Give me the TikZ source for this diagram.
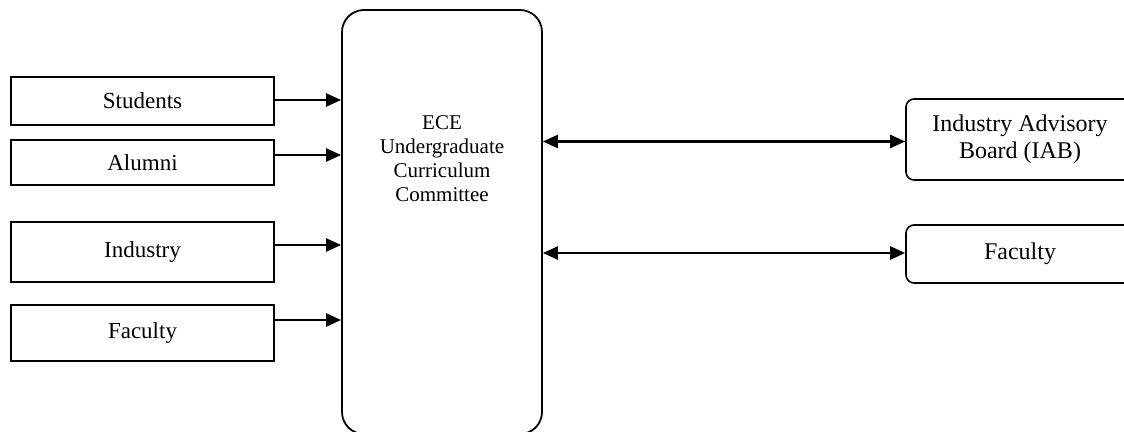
\documentclass[tikz,border=0pt]{standalone}
\usepackage{fontspec}
\setmainfont{Liberation Serif}
\usetikzlibrary{arrows.meta}
\begin{document}
\begin{tikzpicture}[x=1pt,y=-1pt,
  inbox/.style={draw, line width=1.6pt, minimum width=263pt, inner sep=0pt, font=\fontsize{23}{27}\selectfont},
  outbox/.style={draw, line width=1.6pt, rounded corners=8pt, minimum width=228pt, inner sep=0pt, align=center, font=\fontsize{24}{27}\selectfont},
  bigbox/.style={draw, line width=1.8pt, rounded corners=22pt, minimum width=200pt, minimum height=424pt, inner sep=0pt},
  arr/.style={line width=2.4pt, -{Triangle[length=15pt,width=13pt]}},
  darr/.style={line width=2.4pt, {Triangle[length=15pt,width=13pt]}-{Triangle[length=15pt,width=13pt]}}
]
\useasboundingbox (0,0) rectangle (1124,431);
\clip (0,0) rectangle (1124,431);
% centre box
\node[bigbox] (ece) at (442,222) {};
\node[anchor=north, inner sep=0pt, align=center, font=\fontsize{21}{24}\selectfont] (ecetext) at (442,115) {ECE\\Undergraduate\\Curriculum\\Committee};
% left boxes
\node[inbox, minimum height=48pt] (students) at (142.5,101) {Students};
\node[inbox, minimum height=45pt] (alumni) at (142.5,162.5) {Alumni};
\node[inbox, minimum height=60pt] (industry) at (142.5,252) {Industry};
\node[inbox, minimum height=56pt] (faculty) at (142.5,333) {Faculty};
% right boxes
\node[outbox, minimum height=81pt] (iab) at (1020,139.5) {Industry Advisory\\Board (IAB)};
\node[outbox, minimum height=58pt] (faculty2) at (1020,254) {Faculty};
% arrows
\path ([yshift=1pt]students.east) coordinate (s1);
\path ([yshift=7.5pt]alumni.east) coordinate (a1);
\path ([yshift=7pt]industry.east) coordinate (i1);
\path ([yshift=13pt]faculty.east) coordinate (f1);
\draw[arr] (s1) -- (s1 -| ece.west);
\draw[arr] (a1) -- (a1 -| ece.west);
\draw[arr] (i1) -- (i1 -| ece.west);
\draw[arr] (f1) -- (f1 -| ece.west);
\path ([yshift=-2pt]iab.west) coordinate (r1);
\path ([yshift=1pt]faculty2.west) coordinate (r2);
\draw[darr] (r1 -| ece.east) -- (r1);
\draw[darr] (r2 -| ece.east) -- (r2);
\end{tikzpicture}
\end{document}
